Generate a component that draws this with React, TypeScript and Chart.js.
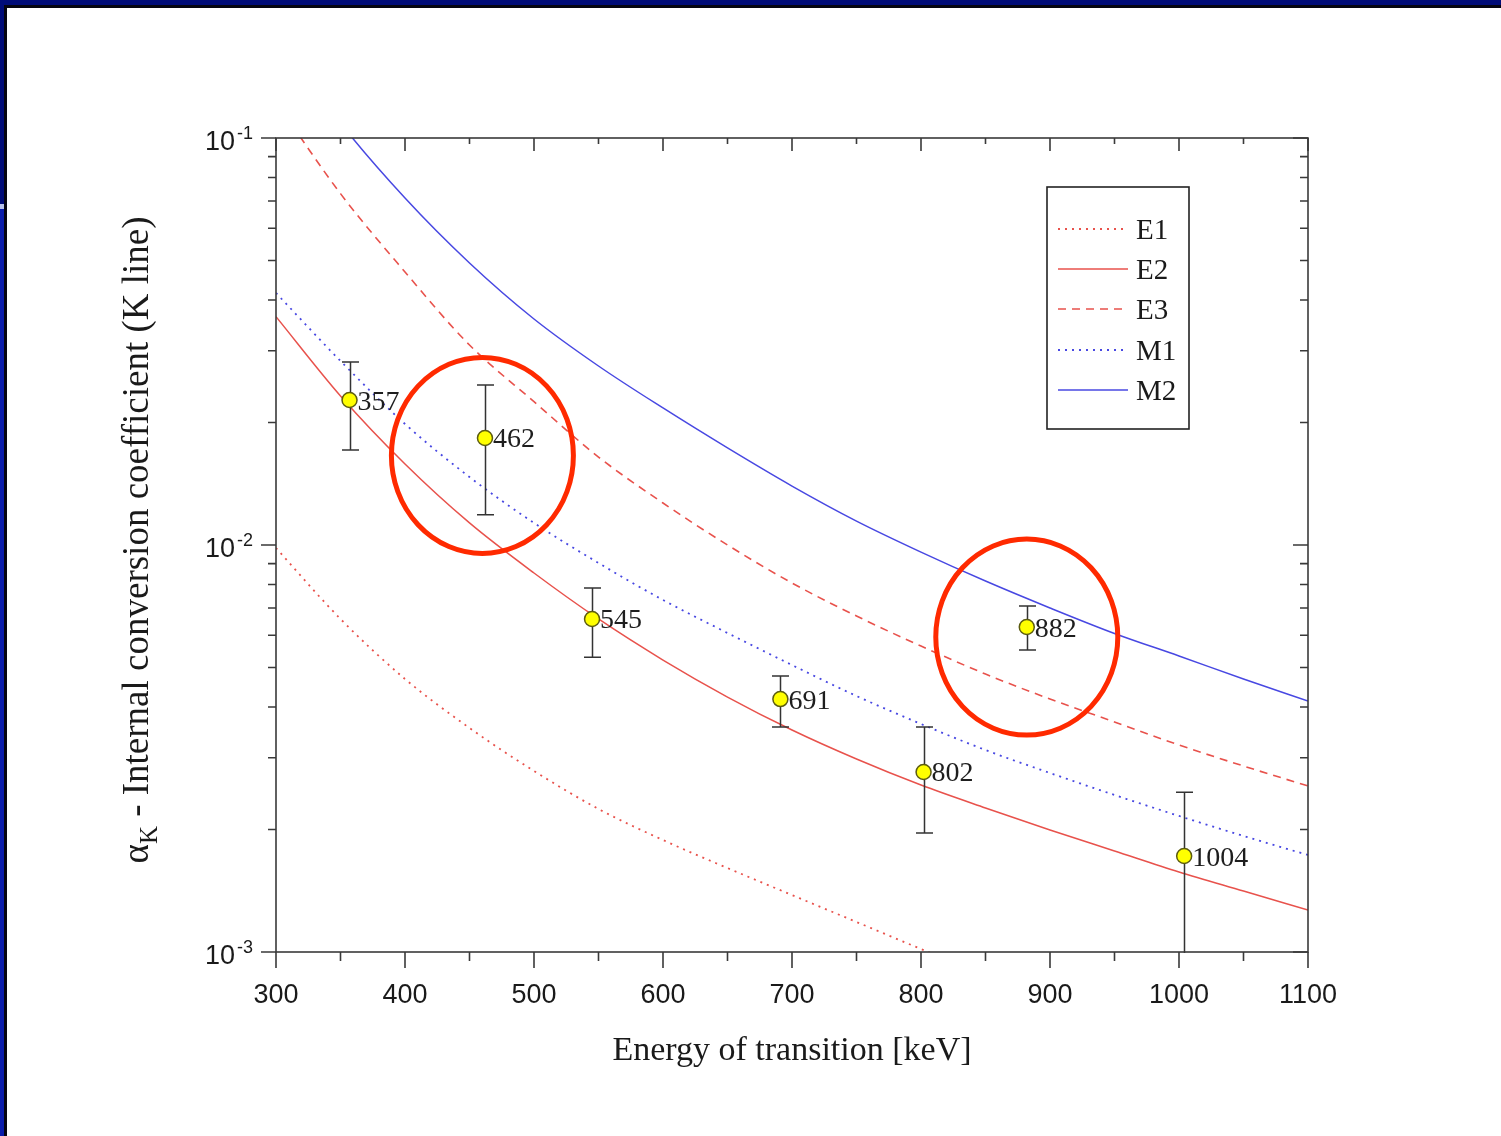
import React, { useEffect, useRef } from 'react';
import { Chart, registerables } from 'chart.js';

Chart.register(...registerables);

// ---------- data ----------
const curveEnergies = [300, 350, 400, 450, 500, 550, 600, 650, 700, 750, 800, 850, 900, 950, 1000, 1050, 1100];
const e1Energies = [300, 350, 400, 450, 500, 550, 600, 650, 700, 750, 800, 850, 900];

const E1 = [0.009831, 0.00658, 0.004686, 0.003552, 0.002785, 0.002246, 0.001884, 0.001608, 0.00138, 0.001185, 0.001017, 0.000878, 0.000762];
const E2 = [0.03639, 0.02323, 0.01581, 0.01133, 0.008535, 0.00658, 0.005216, 0.004231, 0.003511, 0.00298, 0.002572, 0.002259, 0.001994, 0.001771, 0.001573, 0.001412, 0.001268];
const E3 = [0.1227, 0.073, 0.04686, 0.031, 0.0225, 0.01645, 0.01268, 0.01, 0.008065, 0.006692, 0.005646, 0.004819, 0.004184, 0.003674, 0.003226, 0.002864, 0.002558];
const M1 = [0.04161, 0.02832, 0.01983, 0.01469, 0.01133, 0.009033, 0.007327, 0.006078, 0.005071, 0.004256, 0.003633, 0.003135, 0.002753, 0.002431, 0.002159, 0.001928, 0.001731];
const M2 = [0.181, 0.1088, 0.07121, 0.04931, 0.03592, 0.02753, 0.02171, 0.01732, 0.01396, 0.01145, 0.009608, 0.008156, 0.007004, 0.006063, 0.005337, 0.004686, 0.004137];

const seriesNames = ['E1', 'E2', 'E3', 'M1', 'M2'];

const pointEnergies = [357, 462, 545, 691, 802, 882, 1004];
const pointValues = [0.02271, 0.01832, 0.00658, 0.004183, 0.002769, 0.006288, 0.001721];
const errHigh = [0.02816, 0.02472, 0.00784, 0.004766, 0.003571, 0.00708, 0.00247];
const errLow = [0.01712, 0.01186, 0.0053, 0.003571, 0.00196, 0.00552, 0.0009];
const pointLabels = ['357', '462', '545', '691', '802', '882', '1004'];

const xMajorTicks = [300, 400, 500, 600, 700, 800, 900, 1000, 1100];
const xTickLabels = ['300', '400', '500', '600', '700', '800', '900', '1000', '1100'];
const xMinorTicks = [350, 450, 550, 650, 750, 850, 950, 1050];
const yMajorTicks = [0.001, 0.01, 0.1];
const yTickExponents = ['-3', '-2', '-1'];
const yMinorTicks = [0.002, 0.003, 0.004, 0.005, 0.006, 0.007, 0.008, 0.009, 0.02, 0.03, 0.04, 0.05, 0.06, 0.07, 0.08, 0.09];

const highlightEnergies = [460, 882];
const highlightValues = [0.0166, 0.00594];

const xTitle = 'Energy of transition [keV]';
const yTitleMain = 'α';
const yTitleSub = 'K';
const yTitleRest = ' - Internal conversion coefficient (K line)';

// ---------- styles ----------
const RED = 'rgb(232,82,76)';
const BLUE = 'rgb(72,72,226)';
const AXIS = '#3a3a3a';
const SANS = '"Liberation Sans", Arial, sans-serif';
const SERIF = '"Liberation Serif", "Times New Roman", serif';

const seriesStyles = [
  { color: RED, dash: [2, 5], width: 1.8 },
  { color: RED, dash: [], width: 1.5 },
  { color: RED, dash: [8, 6], width: 1.6 },
  { color: BLUE, dash: [2, 5], width: 1.8 },
  { color: BLUE, dash: [], width: 1.5 },
];

const overlayPlugin = {
  id: 'overlay',
  beforeDatasetDraw(chart: any, args: any) {
    if (args.index !== 5) return;
    const { ctx, chartArea } = chart;
    const xs = chart.scales.x;
    const ys = chart.scales.y;
    ctx.save();
    ctx.beginPath();
    ctx.rect(chartArea.left, chartArea.top, chartArea.right - chartArea.left, chartArea.bottom - chartArea.top + 1);
    ctx.clip();
    ctx.strokeStyle = '#333';
    ctx.lineWidth = 1.5;
    pointEnergies.forEach((e, i) => {
      const px = Math.round(xs.getPixelForValue(e)) + 0.5;
      const yt = ys.getPixelForValue(errHigh[i]);
      const yb = ys.getPixelForValue(errLow[i]);
      ctx.beginPath();
      ctx.moveTo(px, yt);
      ctx.lineTo(px, yb);
      ctx.moveTo(px - 8.5, yt);
      ctx.lineTo(px + 8.5, yt);
      ctx.moveTo(px - 8.5, yb);
      ctx.lineTo(px + 8.5, yb);
      ctx.stroke();
    });
    ctx.restore();
  },
  afterDraw(chart: any) {
    const { ctx, chartArea } = chart;
    const { left, right, top, bottom } = chartArea;
    const xs = chart.scales.x;
    const ys = chart.scales.y;
    ctx.save();

    // point labels
    ctx.fillStyle = '#1e1e1e';
    ctx.font = `28px ${SERIF}`;
    ctx.textAlign = 'left';
    ctx.textBaseline = 'alphabetic';
    pointEnergies.forEach((e, i) => {
      const px = xs.getPixelForValue(e);
      const py = ys.getPixelForValue(pointValues[i]);
      ctx.fillText(pointLabels[i], px + 8, py + 9.5);
    });

    // frame
    ctx.strokeStyle = AXIS;
    ctx.lineWidth = 1.6;
    ctx.strokeRect(left, top, right - left, bottom - top);

    // ticks
    ctx.beginPath();
    xMajorTicks.forEach((v) => {
      const x = xs.getPixelForValue(v);
      ctx.moveTo(x, bottom);
      ctx.lineTo(x, bottom + 16);
      ctx.moveTo(x, top);
      ctx.lineTo(x, top + 13);
    });
    xMinorTicks.forEach((v) => {
      const x = xs.getPixelForValue(v);
      ctx.moveTo(x, bottom);
      ctx.lineTo(x, bottom + 9);
      ctx.moveTo(x, top);
      ctx.lineTo(x, top + 6);
    });
    yMajorTicks.forEach((v) => {
      const y = ys.getPixelForValue(v);
      ctx.moveTo(left - 15, y);
      ctx.lineTo(left, y);
      ctx.moveTo(right - 15, y);
      ctx.lineTo(right, y);
    });
    yMinorTicks.forEach((v) => {
      const y = ys.getPixelForValue(v);
      ctx.moveTo(left - 8, y);
      ctx.lineTo(left, y);
      ctx.moveTo(right - 8, y);
      ctx.lineTo(right, y);
    });
    ctx.stroke();

    // x tick labels
    ctx.fillStyle = '#1a1a1a';
    ctx.font = `27px ${SANS}`;
    ctx.textAlign = 'center';
    xMajorTicks.forEach((v, i) => {
      ctx.fillText(xTickLabels[i], xs.getPixelForValue(v), bottom + 51);
    });

    // y tick labels 10^n
    yMajorTicks.forEach((v, i) => {
      const y = ys.getPixelForValue(v);
      ctx.font = `27px ${SANS}`;
      ctx.textAlign = 'right';
      ctx.fillText('10', left - 41, y + 12);
      ctx.font = `18px ${SANS}`;
      ctx.textAlign = 'left';
      ctx.fillText(yTickExponents[i], left - 39, y + 0.5);
    });

    // x title
    ctx.font = `34px ${SERIF}`;
    ctx.textAlign = 'center';
    ctx.fillStyle = '#1a1a1a';
    ctx.fillText(xTitle, (left + right) / 2, 1060);

    // y title (rotated)
    ctx.save();
    ctx.translate(148, 540);
    ctx.rotate(-Math.PI / 2);
    ctx.textAlign = 'left';
    ctx.font = `37px ${SERIF}`;
    const wMain = ctx.measureText(yTitleMain).width;
    const wRest = ctx.measureText(yTitleRest).width;
    ctx.font = `25px ${SERIF}`;
    const wSub = ctx.measureText(yTitleSub).width;
    let x0 = -(wMain + wSub + wRest) / 2;
    ctx.font = `37px ${SERIF}`;
    ctx.fillText(yTitleMain, x0, 0);
    x0 += wMain;
    ctx.font = `25px ${SERIF}`;
    ctx.fillText(yTitleSub, x0, 9);
    x0 += wSub;
    ctx.font = `37px ${SERIF}`;
    ctx.fillText(yTitleRest, x0, 0);
    ctx.restore();

    // legend
    const lx = left + 771;
    const ly = top + 49;
    ctx.strokeStyle = '#222';
    ctx.lineWidth = 1.6;
    ctx.strokeRect(lx, ly, 142, 242);
    const rows = [91, 131, 171, 212, 252];
    seriesNames.forEach((name, i) => {
      const st = seriesStyles[i];
      const ry = top + rows[i];
      ctx.beginPath();
      ctx.strokeStyle = st.color;
      ctx.lineWidth = st.width;
      ctx.setLineDash(st.dash);
      ctx.moveTo(left + 782, ry);
      ctx.lineTo(left + 852, ry);
      ctx.stroke();
      ctx.setLineDash([]);
      ctx.fillStyle = '#1a1a1a';
      ctx.font = `29px ${SERIF}`;
      ctx.textAlign = 'left';
      ctx.fillText(name, left + 860, ry + 10);
    });

    // highlight circles
    ctx.strokeStyle = '#ff2a00';
    ctx.lineWidth = 5;
    highlightEnergies.forEach((e, i) => {
      const cx = xs.getPixelForValue(e);
      const cy = ys.getPixelForValue(highlightValues[i]);
      ctx.beginPath();
      ctx.ellipse(cx, cy, 91, 98, 0, 0, Math.PI * 2);
      ctx.stroke();
    });

    ctx.restore();
  },
};

export default function App() {
  const ref = useRef<HTMLCanvasElement>(null);

  useEffect(() => {
    const canvas = ref.current;
    if (!canvas) return;
    const curves = [E1, E2, E3, M1, M2];
    const lineSets = curves.map((vals, i) => ({
      type: 'line' as const,
      label: seriesNames[i],
      data: vals.map((v, j) => ({ x: (i === 0 ? e1Energies : curveEnergies)[j], y: v })),
      borderColor: seriesStyles[i].color,
      borderWidth: seriesStyles[i].width,
      borderDash: seriesStyles[i].dash,
      pointRadius: 0,
      fill: false,
      cubicInterpolationMode: 'monotone' as const,
      order: 2,
    }));
    const chart = new Chart(canvas, {
      type: 'line',
      data: {
        datasets: [
          ...lineSets,
          {
            type: 'scatter' as const,
            label: 'data',
            data: pointEnergies.map((e, i) => ({ x: e, y: pointValues[i] })),
            pointRadius: 7.5,
            pointBackgroundColor: '#ffff00',
            pointBorderColor: '#5c5c10',
            pointBorderWidth: 1.5,
            showLine: false,
            order: 0,
          } as any,
        ],
      },
      options: {
        responsive: false,
        animation: false,
        events: [],
        layout: { padding: { left: 276, top: 138, right: 193, bottom: 184 } },
        scales: {
          x: { type: 'linear', min: 300, max: 1100, display: false },
          y: { type: 'logarithmic', min: 0.001, max: 0.1, display: false },
        },
        plugins: {
          legend: { display: false },
          tooltip: { enabled: false },
        },
      },
      plugins: [overlayPlugin],
    });
    return () => chart.destroy();
  }, []);

  return (
    <div style={{ position: 'absolute', left: 0, top: 0, width: 1501, height: 1136, background: '#ffffff', overflow: 'hidden' }}>
      <canvas ref={ref} width={1501} height={1136} style={{ position: 'absolute', left: 0, top: 0 }} />
      <div style={{ position: 'absolute', left: 0, top: 0, width: 1501, height: 5, background: '#000c78' }} />
      <div style={{ position: 'absolute', left: 0, top: 5, width: 1501, height: 3, background: '#050510' }} />
      <div style={{ position: 'absolute', left: 0, top: 0, width: 4, height: 204, background: '#000c78' }} />
      <div style={{ position: 'absolute', left: 0, top: 204, width: 4, height: 5, background: '#b8c2ec' }} />
      <div style={{ position: 'absolute', left: 0, top: 209, width: 4, height: 927, background: '#0a1caa' }} />
      <div style={{ position: 'absolute', left: 4, top: 5, width: 3, height: 1131, background: '#050510' }} />
    </div>
  );
}
